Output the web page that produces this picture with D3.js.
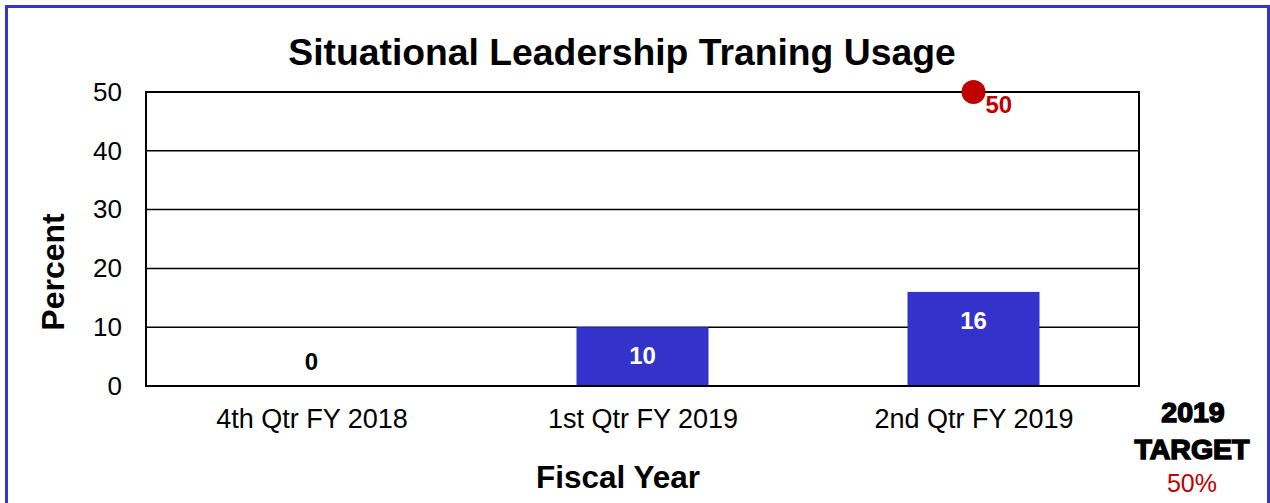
<!DOCTYPE html>
<html>
<head>
<meta charset="utf-8">
<script src="https://cdn.jsdelivr.net/npm/d3@7"></script>
<style>
  html, body { margin: 0; padding: 0; background: #fff; }
  svg { display: block; font-family: "Liberation Sans", Arial, sans-serif; }
</style>
</head>
<body>
<svg id="chart" width="1270" height="503"></svg>
<script>
// Quarterly usage of the training program (percent)
const categories = ["4th Qtr FY 2018", "1st Qtr FY 2019", "2nd Qtr FY 2019"];
const usage = [0, 10, 16];
// Target marker shown for the latest quarter
const targetCategory = ["2nd Qtr FY 2019"];
const targetValue = [50];
const yTicks = [0, 10, 20, 30, 40, 50];

const svg = d3.select("#chart");
const W = 1270, H = 503;
const plot = { left: 146, right: 1139, top: 92, bottom: 386 };

// Outer frame
svg.append("rect")
  .attr("x", 6.5).attr("y", 6.5)
  .attr("width", W - 8).attr("height", H + 10)
  .attr("fill", "none").attr("stroke", "#3535cc").attr("stroke-width", 3);

const xc = d3.scalePoint().domain(categories)
  .range([plot.left, plot.right]).padding(0.5);
const y = d3.scaleLinear().domain([0, 50]).range([plot.bottom, plot.top]);

// Horizontal gridlines
svg.append("g")
  .selectAll("line").data(yTicks.filter(t => t > 0 && t < 50)).join("line")
  .attr("x1", plot.left).attr("x2", plot.right)
  .attr("y1", d => y(d)).attr("y2", d => y(d))
  .attr("stroke", "#000").attr("stroke-width", 1.5);

// Bars
const barW = 132;
svg.append("g")
  .selectAll("rect").data(categories.map((c, i) => ({ c, v: usage[i] })).filter(d => d.v > 0)).join("rect")
  .attr("x", d => xc(d.c) - barW / 2)
  .attr("width", barW)
  .attr("y", d => y(d.v))
  .attr("height", d => y(0) - y(d.v))
  .attr("fill", "#3333cc");

// Plot frame
svg.append("rect")
  .attr("x", plot.left).attr("y", plot.top)
  .attr("width", plot.right - plot.left).attr("height", plot.bottom - plot.top)
  .attr("fill", "none").attr("stroke", "#000").attr("stroke-width", 2);

// Y axis tick labels
const yAxis = d3.axisLeft(y).tickValues(yTicks).tickSize(0).tickPadding(24);
const gy = svg.append("g").attr("transform", `translate(${plot.left},0)`).call(yAxis);
gy.select(".domain").remove();
gy.selectAll("text").attr("font-size", 26).attr("fill", "#000")
  .attr("font-family", "Liberation Sans, Arial, sans-serif");

// X axis category labels
const xAxis = d3.axisBottom(xc).tickSize(0).tickPadding(23);
const gx = svg.append("g").attr("transform", `translate(0,${plot.bottom})`).call(xAxis);
gx.select(".domain").remove();
gx.selectAll("text").attr("font-size", 27).attr("fill", "#000")
  .attr("font-family", "Liberation Sans, Arial, sans-serif");

// Bar value labels
svg.append("g")
  .selectAll("text").data(categories.map((c, i) => ({ c, v: usage[i] }))).join("text")
  .attr("x", d => xc(d.c))
  .attr("y", d => d.v > 0 ? y(d.v) + 37 : y(0) - 16)
  .attr("text-anchor", "middle")
  .attr("font-size", 24).attr("font-weight", "bold")
  .attr("fill", d => d.v > 0 ? "#fff" : "#000")
  .text(d => d.v);

// Target marker
const target = targetCategory.map((c, i) => ({ c, v: targetValue[i] }));
svg.append("g")
  .selectAll("circle").data(target).join("circle")
  .attr("cx", d => xc(d.c)).attr("cy", d => y(d.v))
  .attr("r", 12).attr("fill", "#c00000");
svg.append("g")
  .selectAll("text").data(target).join("text")
  .attr("x", d => xc(d.c) + 12).attr("y", d => y(d.v) + 21)
  .attr("font-size", 24).attr("font-weight", "bold").attr("fill", "#c00000")
  .text(d => d.v);

// Title
svg.append("text")
  .attr("x", 622).attr("y", 65)
  .attr("text-anchor", "middle")
  .attr("font-size", 37.3).attr("font-weight", "bold")
  .text("Situational Leadership Traning Usage");

// Axis titles
svg.append("text")
  .attr("transform", `translate(64,272) rotate(-90)`)
  .attr("text-anchor", "middle")
  .attr("font-size", 32).attr("font-weight", "bold")
  .text("Percent");
svg.append("text")
  .attr("x", 618).attr("y", 488)
  .attr("text-anchor", "middle")
  .attr("font-size", 31.5).attr("font-weight", "bold")
  .text("Fiscal Year");

// Target note
const note = svg.append("g").attr("text-anchor", "middle");
note.append("text").attr("x", 1193).attr("y", 422)
  .attr("font-size", 28.5).attr("font-weight", "bold")
  .attr("stroke", "#000").attr("stroke-width", 1.5)
  .text("2019");
note.append("text").attr("x", 1192).attr("y", 459)
  .attr("font-size", 28.5).attr("font-weight", "bold")
  .attr("stroke", "#000").attr("stroke-width", 1.5)
  .text("TARGET");
note.append("text").attr("x", 1192).attr("y", 492)
  .attr("font-size", 25).attr("fill", "#c00000")
  .text(targetValue[0] + "%");
</script>
</body>
</html>
